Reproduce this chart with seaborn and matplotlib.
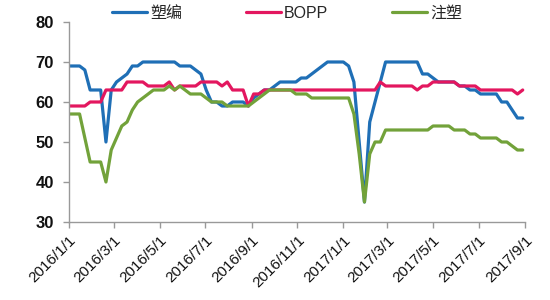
import matplotlib
matplotlib.use("Agg")
import matplotlib.pyplot as plt
import seaborn as sns
import pandas as pd

# ---- data (weekly readings) ----
start_date = "2016-01-01"
end_date = "2017-08-29"
n_points = 87

suobian = [69, 69, 69, 68, 63, 63, 63, 50, 63, 65,
           66, 67, 69, 69, 70, 70, 70, 70, 70, 70,
           70, 69, 69, 69, 68, 67, 63, 60, 60, 59,
           59, 60, 60, 60, 59, 61, 62, 63, 63, 64,
           65, 65, 65, 65, 66, 66, 67, 68, 69, 70,
           70, 70, 70, 69, 65, 50, 35, 55, 60, 65,
           70, 70, 70, 70, 70, 70, 70, 67, 67, 66,
           65, 65, 65, 65, 64, 64, 63, 63, 62, 62,
           62, 62, 60, 60, 58, 56, 56]

bopp = [59, 59, 59, 59, 60, 60, 60, 63, 63, 63,
        63, 65, 65, 65, 65, 64, 64, 64, 64, 65,
        63, 64, 64, 64, 64, 65, 65, 65, 65, 64,
        65, 63, 63, 63, 59, 62, 62, 63, 63, 63,
        63, 63, 63, 63, 63, 63, 63, 63, 63, 63,
        63, 63, 63, 63, 63, 63, 63, 63, 63, 65,
        64, 64, 64, 64, 64, 64, 63, 64, 64, 65,
        65, 65, 65, 65, 64, 64, 64, 64, 63, 63,
        63, 63, 63, 63, 63, 62, 63]

zhusu = [57, 57, 57, 51, 45, 45, 45, 40, 48, 51,
         54, 55, 58, 60, 61, 62, 63, 63, 63, 64,
         63, 64, 63, 62, 62, 62, 61, 60, 60, 60,
         59, 59, 59, 59, 59, 60, 61, 62, 63, 63,
         63, 63, 63, 62, 62, 62, 61, 61, 61, 61,
         61, 61, 61, 61, 57, 47, 35, 47, 50, 50,
         53, 53, 53, 53, 53, 53, 53, 53, 53, 54,
         54, 54, 54, 53, 53, 53, 52, 52, 51, 51,
         51, 51, 50, 50, 49, 48, 48]

series_names = ["塑编", "BOPP", "注塑"]
series_colors = ["#1F6FB6", "#E3175F", "#72A23A"]

tick_dates = ["2016-01-01", "2016-03-01", "2016-05-01", "2016-07-01",
              "2016-09-01", "2016-11-01", "2017-01-01", "2017-03-01",
              "2017-05-01", "2017-07-01", "2017-09-01"]
tick_labels = ["2016/1/1", "2016/3/1", "2016/5/1", "2016/7/1",
               "2016/9/1", "2016/11/1", "2017/1/1", "2017/3/1",
               "2017/5/1", "2017/7/1", "2017/9/1"]
y_ticks = [30, 40, 50, 60, 70, 80]

# ---- build long table ----
dates = pd.date_range(start_date, end_date, periods=n_points)
frames = []
for name, vals in zip(series_names, [suobian, bopp, zhusu]):
    frames.append(pd.DataFrame({"date": dates, "value": vals, "series": name}))
df = pd.concat(frames, ignore_index=True)

sns.set_theme(style="white")
plt.rcParams["font.family"] = ["Liberation Sans", "Noto Sans CJK SC", "DejaVu Sans"]

fig = plt.figure(figsize=(5.5, 3.0), dpi=100)
ax = fig.add_axes([0.1255, 0.26, 0.829, 0.6667])

sns.lineplot(data=df, x="date", y="value", hue="series",
             hue_order=series_names, palette=series_colors,
             linewidth=2.3, ax=ax, legend=True)

ax.set_xlim(pd.Timestamp(tick_dates[0]), pd.Timestamp(tick_dates[-1]))
ax.set_ylim(30, 80)
ax.set_yticks(y_ticks)
ax.set_yticklabels([str(v) for v in y_ticks], fontsize=12, fontweight="bold",
                   color="#111111")
ax.set_xticks([pd.Timestamp(d) for d in tick_dates])
ax.set_xticklabels(tick_labels, rotation=45, ha="right", rotation_mode="anchor",
                   fontsize=11, color="#111111")
ax.set_xlabel("")
ax.set_ylabel("")

for s in ["top", "right"]:
    ax.spines[s].set_visible(False)
for s in ["left", "bottom"]:
    ax.spines[s].set_color("#999999")
    ax.spines[s].set_linewidth(1.0)
ax.tick_params(axis="x", which="major", direction="out", length=4,
               width=1.0, color="#999999", bottom=True, pad=4)
ax.tick_params(axis="y", which="major", direction="out", length=4,
               width=1.0, color="#999999", left=True, pad=7)
ax.grid(False)

handles, labels = ax.get_legend_handles_labels()
ax.legend(handles, labels, loc="center", bbox_to_anchor=(0.522, 0.955),
          bbox_transform=fig.transFigure, ncol=3, frameon=False,
          fontsize=11.5, handlelength=2.2, handletextpad=0.2,
          columnspacing=4.0)

fig.savefig("out.png", dpi=100)
